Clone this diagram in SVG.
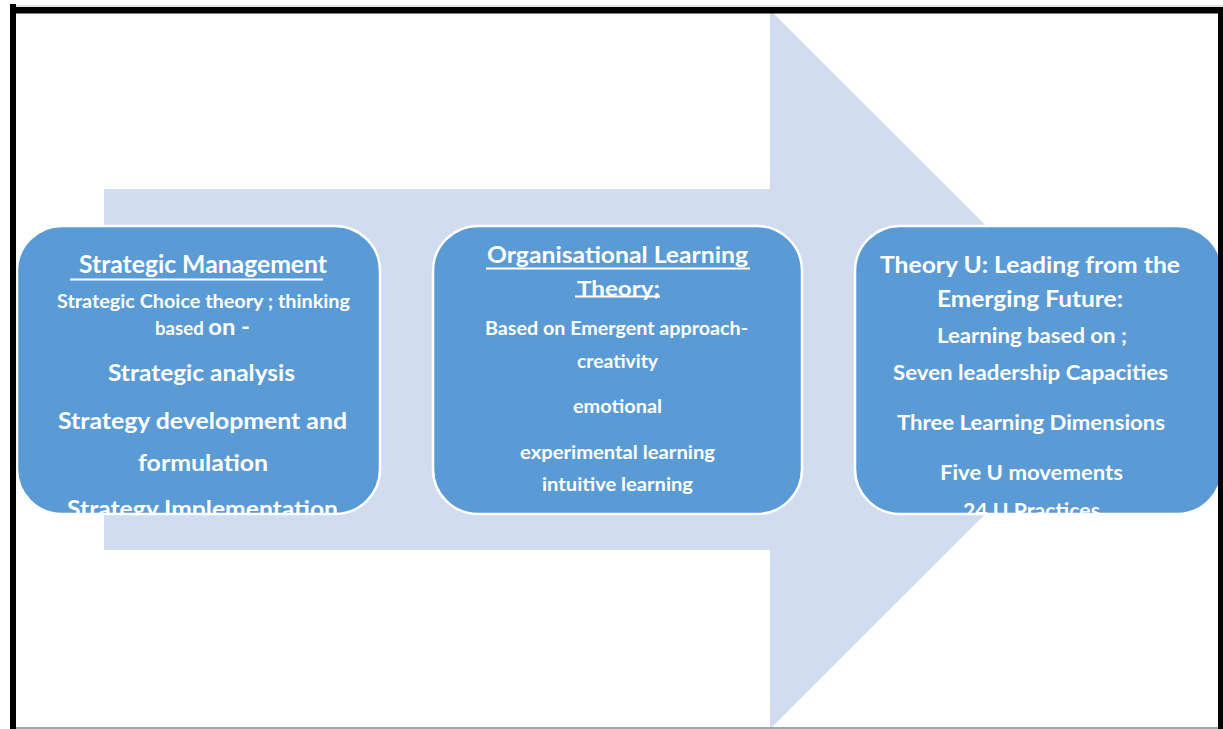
<svg xmlns="http://www.w3.org/2000/svg" width="1223" height="729" viewBox="0 0 1223 729">
<style>
.box{fill:#5B9BD5;stroke:#FFFFFF;stroke-width:2.5}
.t{font-family:Lato,"Open Sans","Liberation Sans",sans-serif;font-weight:700;fill:#FFFFFF;text-anchor:middle}
.s18{font-size:18px}
.s20{font-size:20px}
.s22{font-size:22px}
.s24{font-size:24px}
.ul{stroke:#FFFFFF;stroke-width:2}
</style>
<defs>
<clipPath id="c1"><rect x="17" y="226" width="363" height="288" rx="45"/></clipPath>
<clipPath id="c3"><rect x="855" y="226" width="367" height="288" rx="45"/></clipPath>
</defs>
<rect width="1223" height="729" fill="#FFFFFF"/>
<g id="background-arrow">
<path d="M104,189 H770 V10 L1130,369.5 L770,729 V550 H104 Z" fill="#D1DCEE"/>
</g>
<g id="node-strategic-management">
<rect class="box" x="17" y="226" width="363" height="288" rx="45"/>
<g clip-path="url(#c1)">
<text class="t s24" x="203" y="273" textLength="248" lengthAdjust="spacingAndGlyphs">Strategic Management</text>
<line class="ul" x1="70" y1="279.5" x2="323" y2="279.5"/>
<text class="t s18" x="203.5" y="308" textLength="293" lengthAdjust="spacingAndGlyphs">Strategic Choice theory ; thinking</text>
<text class="t s18" x="202.5" y="335" textLength="95" lengthAdjust="spacingAndGlyphs">based <tspan font-size="23">on -</tspan></text>
<text class="t s22" x="201.5" y="381" textLength="187" lengthAdjust="spacingAndGlyphs">Strategic analysis</text>
<text class="t s22" x="202.5" y="429" textLength="289" lengthAdjust="spacingAndGlyphs">Strategy development and</text>
<text class="t s22" x="203" y="471" textLength="130" lengthAdjust="spacingAndGlyphs">formulation</text>
<text class="t s22" x="202.5" y="517" textLength="271" lengthAdjust="spacingAndGlyphs">Strategy Implementation</text>
</g>
</g>
<g id="node-organisational-learning">
<rect class="box" x="433" y="226" width="369" height="288" rx="45"/>
<text class="t s22" x="617.5" y="263" textLength="261" lengthAdjust="spacingAndGlyphs">Organisational Learning</text>
<line class="ul" x1="486" y1="268.5" x2="750" y2="268.5"/>
<text class="t s20" x="618.5" y="296" textLength="83" lengthAdjust="spacingAndGlyphs">Theory;</text>
<line class="ul" x1="575" y1="296.5" x2="660" y2="296.5"/>
<text class="t s18" x="616.5" y="335" textLength="263" lengthAdjust="spacingAndGlyphs">Based on Emergent approach-</text>
<text class="t s18" x="617.5" y="368" textLength="81" lengthAdjust="spacingAndGlyphs">creativity</text>
<text class="t s18" x="617.5" y="413" textLength="89" lengthAdjust="spacingAndGlyphs">emotional</text>
<text class="t s18" x="617.5" y="459" textLength="195" lengthAdjust="spacingAndGlyphs">experimental learning</text>
<text class="t s18" x="617.5" y="491" textLength="151" lengthAdjust="spacingAndGlyphs">intuitive learning</text>
</g>
<g id="node-theory-u">
<rect class="box" x="855" y="226" width="367" height="288" rx="45"/>
<g clip-path="url(#c3)">
<text class="t s22" x="1030" y="273" textLength="300" lengthAdjust="spacingAndGlyphs">Theory U: Leading from the</text>
<text class="t s22" x="1030" y="307" textLength="186" lengthAdjust="spacingAndGlyphs">Emerging Future:</text>
<text class="t s20" x="1032" y="343" textLength="190" lengthAdjust="spacingAndGlyphs">Learning based on ;</text>
<text class="t s20" x="1030.5" y="380" textLength="275" lengthAdjust="spacingAndGlyphs">Seven leadership Capacities</text>
<text class="t s20" x="1031" y="430" textLength="268" lengthAdjust="spacingAndGlyphs">Three Learning Dimensions</text>
<text class="t s20" x="1031.5" y="480" textLength="183" lengthAdjust="spacingAndGlyphs">Five U movements</text>
<text class="t s20" x="1031.5" y="518" textLength="137" lengthAdjust="spacingAndGlyphs">24 U Practices</text>
</g>
</g>
<g id="frame">
<line x1="10" y1="6" x2="1223" y2="6" stroke="#C8C8C8" stroke-width="1"/>
<rect x="10" y="7" width="1213" height="6.5" fill="#000000"/>
<rect x="10" y="4" width="6" height="725" fill="#000000"/>
<rect x="1218" y="7" width="5" height="722" fill="#000000"/>
<rect x="16" y="727" width="1202" height="2" fill="#A6A6A6"/>
</g>
</svg>
